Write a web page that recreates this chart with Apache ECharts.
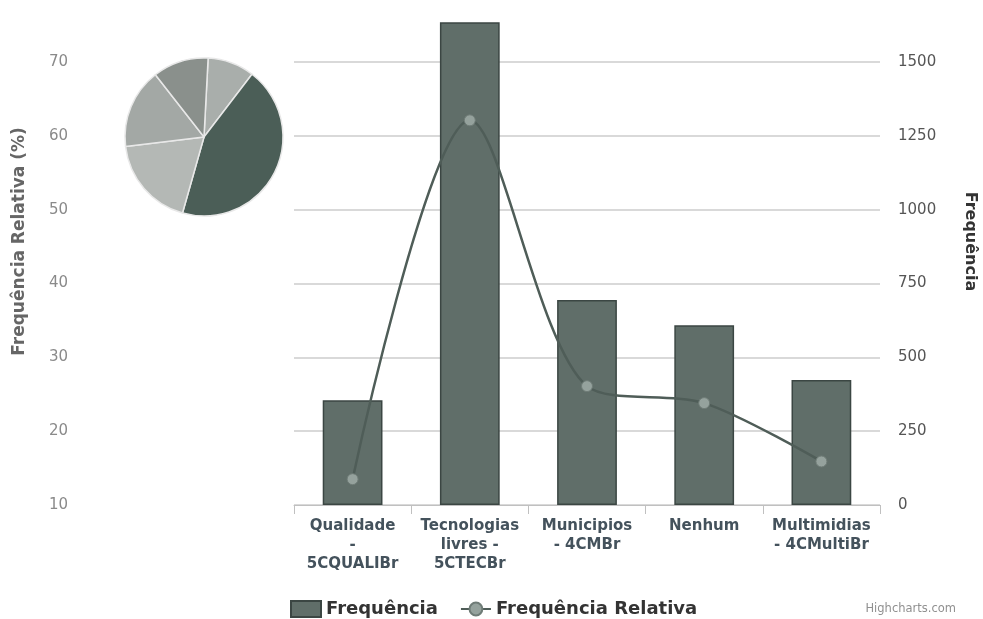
<!DOCTYPE html>
<html>
<head>
<meta charset="utf-8">
<script src="https://cdn.jsdelivr.net/npm/echarts@6/dist/echarts.min.js"></script>
<style>
  html, body { margin: 0; padding: 0; background: #fff; }
  #chart { width: 983px; height: 619px; }
</style>
</head>
<body>
<div id="chart"></div>
<script>
// categorias do eixo x
var categorias = ['Qualidade\n-\n5CQUALIBr', 'Tecnologias\nlivres -\n5CTECBr', 'Municipios\n- 4CMBr', 'Nenhum', 'Multimidias\n- 4CMultiBr']
// frequência absoluta (barras, eixo da direita)
var frequencia = [355, 1635, 694, 609, 423]
// frequência relativa em % (linha, eixo da esquerda)
var frequenciaRelativa = [13.5, 62.1, 26.1, 23.8, 15.9]
// cores das fatias da pizza
var coresPizza = ['#a9aeab', '#4b5e57', '#b4b8b5', '#a3a8a5', '#8a908c']

var fonte = '"DejaVu Sans", Verdana, sans-serif'

var chart = echarts.init(document.getElementById('chart'), null, { renderer: 'canvas' })

var option = {
  backgroundColor: '#fff',
  animation: false,
  grid: {
    left: 294,
    right: 103,
    top: 62,
    bottom: 114,
    outerBoundsMode: 'none'
  },
  legend: {
    top: 595,
    left: 285,
    itemWidth: 30,
    itemHeight: 16,
    itemGap: 22,
    textStyle: {
      fontFamily: fonte,
      fontSize: 18,
      fontWeight: 'bold',
      color: '#333'
    },
    data: [
      { name: 'Frequência', icon: 'rect' },
      { name: 'Frequência Relativa' }
    ]
  },
  xAxis: {
    type: 'category',
    data: categorias,
    axisLine: { lineStyle: { color: '#c0c0c0' } },
    axisTick: { show: true, length: 9, lineStyle: { color: '#c0c0c0' } },
    axisLabel: {
      interval: 0,
      margin: 12,
      lineHeight: 19,
      fontFamily: fonte,
      fontSize: 15,
      fontWeight: 'bold',
      color: '#44525c'
    }
  },
  yAxis: [
    {
      // eixo da esquerda: frequência relativa
      type: 'value',
      min: 10,
      max: 70,
      interval: 10,
      name: 'Frequência Relativa (%)',
      nameLocation: 'middle',
      nameGap: 266,
      nameRotate: 90,
      nameTextStyle: {
        fontFamily: fonte,
        fontSize: 17,
        fontWeight: 'bold',
        color: '#666',
        padding: [0, 0, 0, 84]
      },
      axisLine: { show: false },
      axisTick: { show: false },
      splitLine: { show: false },
      axisLabel: {
        margin: 226,
        fontFamily: fonte,
        fontSize: 15,
        color: '#8a8a8a'
      }
    },
    {
      // eixo da direita: frequência
      type: 'value',
      min: 0,
      max: 1500,
      interval: 250,
      position: 'right',
      name: 'Frequência',
      nameLocation: 'middle',
      nameGap: 82,
      nameRotate: -90,
      nameTextStyle: {
        fontFamily: fonte,
        fontSize: 16,
        fontWeight: 'bold',
        color: '#333',
        padding: [0, 84, 0, 0]
      },
      axisLine: { show: false },
      axisTick: { show: false },
      splitLine: { show: true, lineStyle: { color: '#cdcdcd', width: 1.5 } },
      axisLabel: {
        margin: 18,
        fontFamily: fonte,
        fontSize: 15,
        color: '#555',
        formatter: function (v) { return String(v) }
      }
    }
  ],
  series: [
    {
      name: 'Frequência',
      type: 'bar',
      yAxisIndex: 1,
      barWidth: '51%',
      clip: false,
      data: frequencia,
      itemStyle: {
        color: '#606e69',
        borderColor: '#3b4643',
        borderWidth: 1.5
      },
      z: 2
    },
    {
      name: 'Frequência Relativa',
      type: 'line',
      yAxisIndex: 0,
      smooth: 0.3,
      data: frequenciaRelativa,
      symbol: 'circle',
      symbolSize: 11,
      lineStyle: { color: '#4f5d58', width: 2.5 },
      itemStyle: { color: '#95a29d', borderColor: '#6f7c77', borderWidth: 1 },
      z: 3
    },
    {
      name: 'pizza',
      type: 'pie',
      center: [204, 137],
      radius: 79,
      startAngle: 87,
      silent: true,
      label: { show: false },
      labelLine: { show: false },
      itemStyle: { borderColor: '#e8e8e8', borderWidth: 1.5 },
      data: frequencia.map(function (v, i) {
        return { value: v, name: categorias[i], itemStyle: { color: coresPizza[i] } }
      })
    }
  ],
  graphic: [
    {
      type: 'text',
      right: 27,
      bottom: 4,
      style: {
        text: 'Highcharts.com',
        fontFamily: fonte,
        fontSize: 11.5,
        fill: '#909090'
      }
    }
  ]
}

chart.setOption(option)
</script>
</body>
</html>
